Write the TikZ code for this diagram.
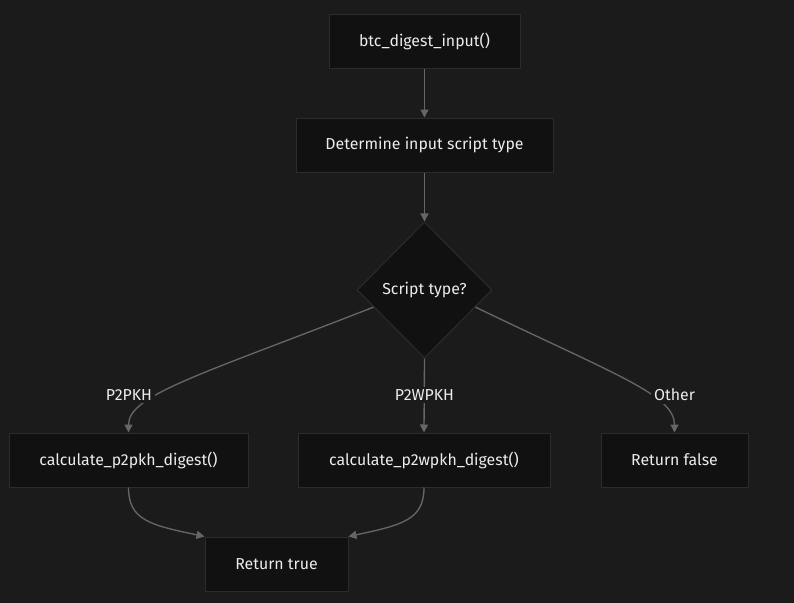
\documentclass[tikz,border=0pt]{standalone}
\usepackage{fontspec}
\setmainfont{Fira Sans}
\usetikzlibrary{shapes.geometric, arrows.meta, calc}
\definecolor{bgDark}{RGB}{27, 27, 27}
\definecolor{boxFill}{RGB}{17, 17, 17}
\definecolor{boxLine}{RGB}{44, 44, 44}
\definecolor{edgeGrey}{RGB}{102, 102, 102}
\definecolor{textLight}{RGB}{236, 236, 236}
\tikzset{
  stepBox/.style={draw=boxLine, fill=boxFill, text=textLight, line width=0.75pt, minimum height=40.5pt, inner sep=0pt},
  choiceBox/.style={diamond, aspect=1, draw=boxLine, fill=boxFill, text=textLight, line width=0.75pt, minimum width=101.25pt, minimum height=102pt, inner sep=0pt},
  edgeLabel/.style={fill=bgDark, text=textLight, inner sep=2pt},
  flow/.style={draw=edgeGrey, line width=1pt, -{Triangle[length=6pt, width=6pt]}}
}

\begin{document}
\begin{tikzpicture}[x=0.75pt, y=-0.75pt, font=\fontsize{11.9}{14}\selectfont]
        \fill[bgDark] (0,0) rectangle (794,603);
        \node[stepBox, minimum width=143.25pt] (digest) at (424.5,41) {btc\_digest\_input()};
        \node[stepBox, minimum width=192.75pt] (detect) at (424.5,145) {Determine input script type};
        \node[choiceBox] (choice) at (424.5,290) {Script type?};
        \node[stepBox, minimum width=179.25pt] (p2pkh) at (128.5,460) {calculate\_p2pkh\_digest()};
        \node[stepBox, minimum width=189pt] (p2wpkh) at (424,460) {calculate\_p2wpkh\_digest()};
        \node[stepBox, minimum width=110.25pt] (fail) at (674.5,460) {Return false};
        \node[stepBox, minimum width=107.25pt] (done) at (276.5,564) {Return true};

        \draw[flow] (digest) -- (detect);
        \draw[flow] (detect) -- (choice);
        \draw[flow] ($(choice.west)!0.25!(choice.south)$) .. controls (200,375) and (128.5,395) .. (p2pkh.north);
        \draw[flow] (choice.south) -- (p2wpkh.north);
        \draw[flow] ($(choice.east)!0.25!(choice.south)$) .. controls (616,375) and (674.5,395) .. (fail.north);
        \draw[flow] (p2pkh.south) .. controls (128.5,520) and (150,525) .. (done.north west);
        \draw[flow] (p2wpkh.south) .. controls (424,520) and (402,525) .. (done.north east);

        \node[edgeLabel] (lblPkh) at (129,395) {P2PKH};
        \node[edgeLabel] (lblWpkh) at (424.5,395) {P2WPKH};
        \node[edgeLabel] (lblOther) at (674.5,395) {Other};
      \end{tikzpicture}
\end{document}
